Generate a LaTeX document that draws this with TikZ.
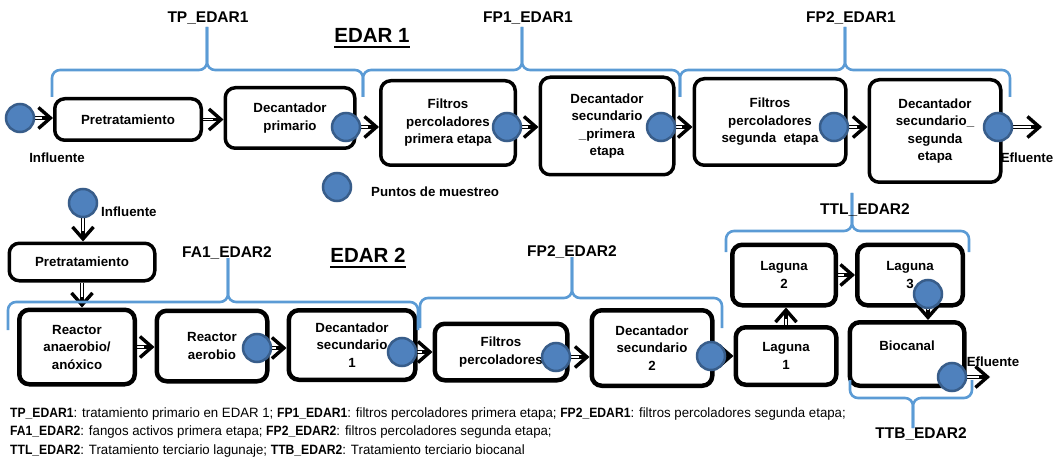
\documentclass[tikz,border=0pt]{standalone}
\usepackage{fontspec}
\setmainfont{Liberation Sans}
\newfontfamily\notefont[FakeStretch=0.98]{Liberation Sans}
\newfontfamily\notekeyfont[FakeStretch=0.9]{Liberation Sans}
\usetikzlibrary{arrows.meta}
\pgfdeclarelayer{background}
\pgfsetlayers{background,main}
\definecolor{dotfill}{HTML}{4F81BD}
\definecolor{dotline}{HTML}{385D8A}
\definecolor{bracecol}{HTML}{5B9BD5}
\newcommand{\procfont}{\fontsize{13.3}{17.5}\selectfont\bfseries}
\newcommand{\tagfont}{\fontsize{15.5}{18}\selectfont\bfseries}
\newcommand{\titlefont}{\fontsize{20.5}{24}\selectfont\bfseries}
\newcommand{\notekey}[1]{{\notekeyfont\bfseries #1}}
\newcommand{\edartitle}[1]{\setbox0=\hbox{#1}\rlap{\rule[-5pt]{\wd0}{1.8pt}}\box0}
% x left, x right, x tip, y line, y ends, y tip
\newcommand{\edarbrace}[6]{%
  \draw[curly] (#1,#5) -- (#1,#4) -- (#3,#4) -- (#3,#6);
  \draw[curly] (#2,#5) -- (#2,#4) -- (#3,#4) -- (#3,#6);}
\begin{document}
\begin{tikzpicture}[x=1pt, y=-1pt,
  proc/.style={draw, line width=3.5pt, rounded corners=10pt, align=center, font=\procfont, inner sep=2pt},
  heavyproc/.style={proc, line width=4.5pt},
  sample/.style={circle, draw=dotline, fill=dotfill, line width=2.5pt, minimum size=28pt, inner sep=0pt},
  flow/.style={line width=3.6pt, -{Straight Barb[length=12pt, width=21pt, line width=3.4pt]},
    postaction={draw=white, line width=1.2pt, -, shorten >=11pt}},
  curly/.style={draw=bracecol, line width=2.6pt, rounded corners=8pt},
  tag/.style={font=\tagfont, inner sep=0pt},
  txt/.style={font=\procfont, inner sep=0pt}]
\useasboundingbox (0,0) rectangle (1054,457);

% EDAR 1
\node[font=\titlefont, inner sep=0pt] (title1) at (372,38) {\edartitle{EDAR 1}};
\node[proc, minimum width=146.5, minimum height=41.5] (tpre) at (128,119.5) {Pretratamiento};
\node[proc, minimum width=129.5, minimum height=60.5] (tdp) at (290,118) {Decantador\\primario};
\node[proc, minimum width=134.5, minimum height=84.5] (tfp1) at (448,123) {Filtros\\percoladores\\primera etapa};
\node[proc, minimum width=133.5, minimum height=97.5] (tds1) at (607,126) {Decantador\\secundario\\\_primera\\etapa};
\node[proc, minimum width=151.5, minimum height=86.5] (tfp2) at (770,122) {Filtros\\percoladores\\segunda\ \ etapa};
\node[proc, minimum width=131.5, minimum height=102.5] (tds2) at (935,131) {Decantador\\secundario\_\\segunda\\etapa};

\node[sample] (pin1) at (20,118) {};
\node[sample] (pdp) at (346,127) {};
\node[sample] (pfp1) at (507,127) {};
\node[sample] (pds1) at (661,127) {};
\node[sample] (pfp2) at (834,127) {};
\node[sample] (pds2) at (998,127) {};
\coordinate (eout1) at (1042,127);

\node[txt] (inf1) at (57,158) {Influente};
\node[txt] (efl1) at (1027,158) {Efluente};
\node[sample] (pleg) at (337,187) {};
\node[txt, anchor=west] (legtxt) at (371,192) {Puntos de muestreo};

\edarbrace{52}{363}{207}{70}{97}{27}
\edarbrace{363}{680}{522}{70}{97}{27}
\edarbrace{680}{1010}{845}{70}{97}{27}
\node[tag] (tag1) at (208,18) {TP\_EDAR1};
\node[tag] (tag2) at (528,18) {FP1\_EDAR1};
\node[tag] (tag3) at (851,18) {FP2\_EDAR1};

% EDAR 2
\node[font=\titlefont, inner sep=0pt] (title2) at (368,258) {\edartitle{EDAR 2}};
\node[proc, minimum width=145.5, minimum height=37.5] (bpre) at (82,262) {Pretratamiento};
\node[heavyproc, minimum width=115.5, minimum height=74.5] (bra) at (77,347) {Reactor\\anaerobio/\\anóxico};
\node[heavyproc, minimum width=110.5, minimum height=70.5] (brae) at (212,346) {Reactor\\aerobio};
\node[heavyproc, minimum width=126.5, minimum height=69.5] (bd1) at (352,345) {Decantador\\secundario\\1};
\node[heavyproc, minimum width=132.5, minimum height=56.5] (bfp) at (501,352) {Filtros\\percoladores};
\node[heavyproc, minimum width=120.5, minimum height=75.5] (bd2) at (652,348) {Decantador\\secundario\\2};
\node[heavyproc, minimum width=103.5, minimum height=60.5] (bl2) at (784,275) {Laguna\\2};
\node[heavyproc, minimum width=105.5, minimum height=60.5] (bl3) at (910,275) {Laguna\\3};
\node[heavyproc, minimum width=100.5, minimum height=57.5] (bl1) at (786,356) {Laguna\\1};
\node[heavyproc, minimum width=114.5, minimum height=63.5] (bbio) at (907,354) {Biocanal\\~};

\node[sample] (pin2) at (83,203) {};
\node[sample] (pra) at (257,348) {};
\node[sample] (pd1) at (402,352) {};
\node[sample] (pfp) at (556,357) {};
\node[sample] (pd2) at (711,356) {};
\node[sample] (pl3) at (928,294) {};
\node[sample] (pbio) at (952,377) {};
\coordinate (eout2) at (990,377);

\node[txt, anchor=west] (inf2) at (101,212) {Influente};
\node[txt] (efl2) at (993,362) {Efluente};

\edarbrace{8}{418}{228}{302}{330}{258}
\edarbrace{420}{722}{572}{298}{328}{257}
\edarbrace{726}{969}{852}{231}{252}{193}
\edarbrace{850}{972}{913}{398}{380}{428}
\node[tag] (tag4) at (227,253) {FA1\_EDAR2};
\node[tag] (tag5) at (572,252) {FP2\_EDAR2};
\node[tag] (tag6) at (865,210) {TTL\_EDAR2};
\node[tag] (tag7) at (921,434) {TTB\_EDAR2};

\begin{pgfonlayer}{background}
\draw[flow] (pin1) -- (pin1 -| tpre.west);
\draw[flow] (tpre.east) -- (tpre.east -| tdp.west);
\draw[flow] (pdp) -- (pdp -| tfp1.west);
\draw[flow] (pfp1) -- (pfp1 -| tds1.west);
\draw[flow] (pds1) -- (pds1 -| tfp2.west);
\draw[flow] (pfp2) -- (pfp2 -| tds2.west);
\draw[flow] (pds2) -- (eout1);
\draw[flow] (pin2) -- (pin2 |- bpre.north);
\draw[flow] (bpre.south) -- (bpre.south |- bra.north);
\draw[flow] (bra.east) -- (bra.east -| brae.west);
\draw[flow] (pra) -- (pra -| bd1.west);
\draw[flow] (pd1) -- (pd1 -| bfp.west);
\draw[flow] (pfp) -- (pfp -| bd2.west);
\draw[flow] (pd2) -- (pd2 -| bl1.west);
\draw[flow] (bl1.north) -- (bl1.north |- bl2.south);
\draw[flow] (bl2.east) -- (bl2.east -| bl3.west);
\draw[flow] (pl3) -- (pl3 |- bbio.north);
\draw[flow] (pbio) -- (eout2);
\end{pgfonlayer}

\node[anchor=west, align=left, inner sep=0pt, font=\notefont\fontsize{13.5}{18.5}\selectfont] (notes) at (10,432.5) {%
\notekey{TP\_EDAR1}: tratamiento primario en EDAR 1; \notekey{FP1\_EDAR1}: filtros percoladores primera etapa; \notekey{FP2\_EDAR1}: filtros percoladores segunda etapa;\\
\notekey{FA1\_EDAR2}: fangos activos primera etapa; \notekey{FP2\_EDAR2}: filtros percoladores segunda etapa;\\
\notekey{TTL\_EDAR2}: Tratamiento terciario lagunaje; \notekey{TTB\_EDAR2}: Tratamiento terciario biocanal};
\end{tikzpicture}
\end{document}
